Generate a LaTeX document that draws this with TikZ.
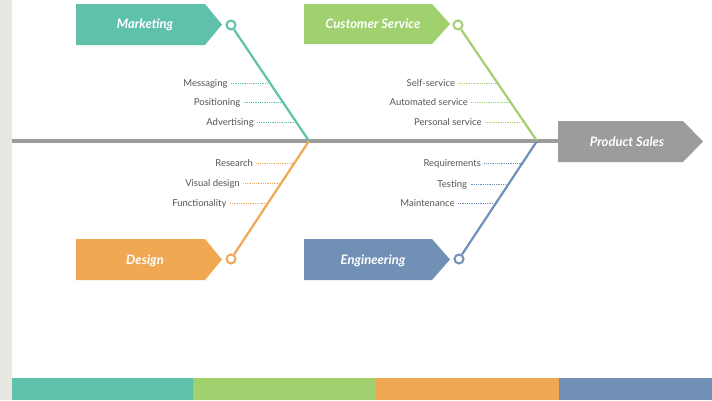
\documentclass[tikz,border=0pt]{standalone}
\usepackage{fontspec}
\setmainfont{Lato}
\usetikzlibrary{calc}
\definecolor{cteal}{HTML}{5FC1AA}
\definecolor{cgreen}{HTML}{A0D16E}
\definecolor{corange}{HTML}{F0A852}
\definecolor{cblue}{HTML}{7190B6}
\definecolor{cspine}{HTML}{9C9C9C}
\definecolor{cstrip}{HTML}{E9E7E2}
\definecolor{ctext}{HTML}{555555}
\begin{document}
\begin{tikzpicture}[x=1pt,y=-1pt,
  cattext/.style={text=white, inner sep=0pt, text height=9.4pt, text depth=0pt,
    font=\bfseries\itshape\fontsize{13}{15}\selectfont},
  ring/.style={circle, draw=#1, fill=white, line width=2pt, minimum size=9pt, inner sep=0pt},
  branch/.style={draw=#1, line width=2.2pt},
  lbl/.style={text=ctext, font=\fontsize{9.5}{11}\selectfont, inner sep=0pt, outer sep=3.5pt,
    text height=6.6pt, text depth=0pt},
  dotl/.style={draw=#1, line width=0.7pt, dash pattern=on 0.7pt off 1.1pt}]
\useasboundingbox (0,0) rectangle (712,400);
\fill[white] (0,0) rectangle (712,400);
\fill[cstrip] (0,0) rectangle (12,400);
% bottom bars
\fill[cteal] (12,378) rectangle (193,400);
\fill[cgreen] (193,378) rectangle (376,400);
\fill[corange] (376,378) rectangle (559,400);
\fill[cblue] (559,378) rectangle (712,400);
% spine and head
\fill[cspine] (558,121) -- (683,121) -- (703,141.5) -- (683,162) -- (558,162) -- cycle;
\node[cattext] (ps) at (627,141.5) {Product Sales};
\coordinate (s0) at (12,141);
\coordinate (s1) at (559,141);
\draw[cspine, line width=4pt] (s0) -- (s1);
\coordinate (j1) at (309,141);
\coordinate (j2) at (537,141);
% category boxes
\fill[cteal] (76,4) -- (205,4) -- (222,24.5) -- (205,45) -- (76,45) -- cycle;
\node[cattext] (mk) at (145,24) {Marketing};
\fill[cgreen] (304,4) -- (432,4) -- (450,24) -- (432,44) -- (304,44) -- cycle;
\node[cattext] (cs) at (373,23.5) {Customer Service};
\fill[corange] (76,239) -- (205,239) -- (222,259.5) -- (205,280) -- (76,280) -- cycle;
\node[cattext] (ds) at (145,259.5) {Design};
\fill[cblue] (304,239) -- (432,239) -- (450,259.5) -- (432,280) -- (304,280) -- cycle;
\node[cattext] (en) at (373,259.5) {Engineering};
% rings
\node[ring=cteal] (mkc) at (231,25) {};
\node[ring=cgreen] (csc) at (458,25) {};
\node[ring=corange] (dsc) at (231,259) {};
\node[ring=cblue] (enc) at (459,259) {};
% branches
\draw[branch=cteal] (mkc) -- (j1);
\draw[branch=cgreen] (csc) -- (j2);
\draw[branch=corange] (dsc) -- (j1);
\draw[branch=cblue] (enc) -- (j2);
% sub-causes
\foreach \t/\yy in {Messaging/83, Positioning/102, Advertising/122} {
  \coordinate (mkp\yy) at ($(mkc.center)!{(\yy-25)/116}!(j1)$);
  \node[lbl, anchor=east] (mkl\yy) at ($(mkp\yy)+(-39,0)$) {\t};
  \draw[dotl=cteal] (mkl\yy) -- (mkp\yy);
}
\foreach \t/\yy in {Self-service/83, Automated service/102, Personal service/122} {
  \coordinate (csp\yy) at ($(csc.center)!{(\yy-25)/116}!(j2)$);
  \node[lbl, anchor=east] (csl\yy) at ($(csp\yy)+(-39,0)$) {\t};
  \draw[dotl=cgreen] (csl\yy) -- (csp\yy);
}
\foreach \t/\yy in {Research/163, Visual design/183, Functionality/203} {
  \coordinate (dsp\yy) at ($(j1)!{(\yy-141)/118}!(dsc.center)$);
  \node[lbl, anchor=east] (dsl\yy) at ($(dsp\yy)+(-38,0)$) {\t};
  \draw[dotl=corange] (dsl\yy) -- (dsp\yy);
}
\foreach \t/\yy in {Requirements/163, Testing/184, Maintenance/203} {
  \coordinate (enp\yy) at ($(j2)!{(\yy-141)/118}!(enc.center)$);
  \node[lbl, anchor=east] (enl\yy) at ($(enp\yy)+(-38,0)$) {\t};
  \draw[dotl=cblue] (enl\yy) -- (enp\yy);
}
\end{tikzpicture}
\end{document}
